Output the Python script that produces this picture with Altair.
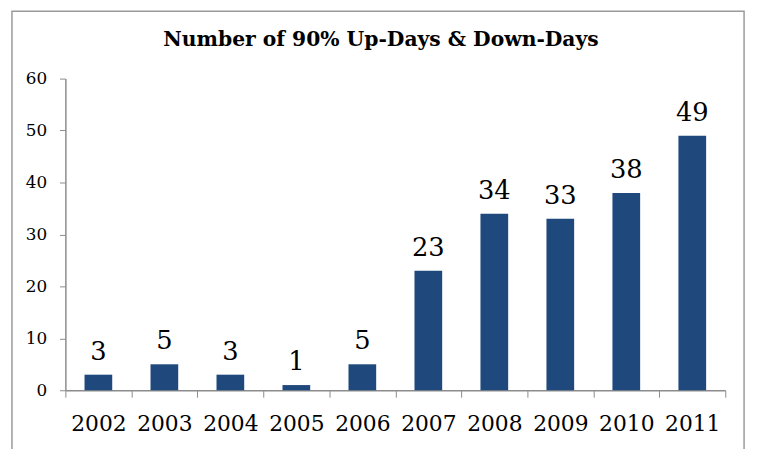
import altair as alt
import pandas as pd

years = ["2002", "2003", "2004", "2005", "2006", "2007", "2008", "2009", "2010", "2011"]
counts = [3, 5, 3, 1, 5, 23, 34, 33, 38, 49]
y_ticks = [0, 10, 20, 30, 40, 50, 60]
title_text = "Number of 90% Up-Days & Down-Days"

df = pd.DataFrame({"year": years, "count": counts})

FONT = "DejaVu Serif"
BAR = "#1F497D"
GRAY = "#8C8C8C"

base = alt.Chart(df)

x_enc = alt.X("year:N", sort=years,
              scale=alt.Scale(paddingInner=0, paddingOuter=0),
              axis=alt.Axis(title=None, labelAngle=0, labelFont=FONT, labelFontSize=22,
                            labelColor="#000000", labelPadding=17, tickBand="extent",
                            tickSize=7, tickColor=GRAY, domainColor=GRAY, domainWidth=1.5))
y_enc = alt.Y("count:Q", scale=alt.Scale(domain=[0, 60], nice=False),
              axis=alt.Axis(title=None, values=y_ticks, grid=False, labelFont=FONT,
                            labelFontSize=17, labelColor="#000000", labelPadding=13,
                            tickSize=6, tickColor=GRAY, domainColor=GRAY, domainWidth=1.5))

bars = base.mark_bar(color=BAR, width=28).encode(x=x_enc, y=y_enc)

labels = base.mark_text(font=FONT, fontSize=26, baseline="alphabetic", dy=-15,
                        color="#000000").encode(
    x=alt.X("year:N", sort=years), y=alt.Y("count:Q"), text=alt.Text("count:Q"))

one = alt.Data(values=[{"a": 1}])
frame = alt.Chart(one).mark_rect(
    fill=None, stroke="#9A9A9A", strokeWidth=1.5).encode(
    x=alt.value(-54), x2=alt.value(686), y=alt.value(-68), y2=alt.value(420))

title = alt.Chart(one).mark_text(
    text=title_text, font=FONT, fontSize=20.5, fontWeight="bold", color="#000000",
    align="center", baseline="alphabetic").encode(x=alt.value(319), y=alt.value(-33))

chart = alt.layer(frame, title, bars, labels).properties(
    width=667, height=315,
    padding={"left": 58, "top": 69, "right": 26, "bottom": 57},
    autosize=alt.AutoSizeParams(type="none"),
).configure_view(stroke=None)

chart.save("out.html", embed_options={"renderer": "svg", "actions": False})
